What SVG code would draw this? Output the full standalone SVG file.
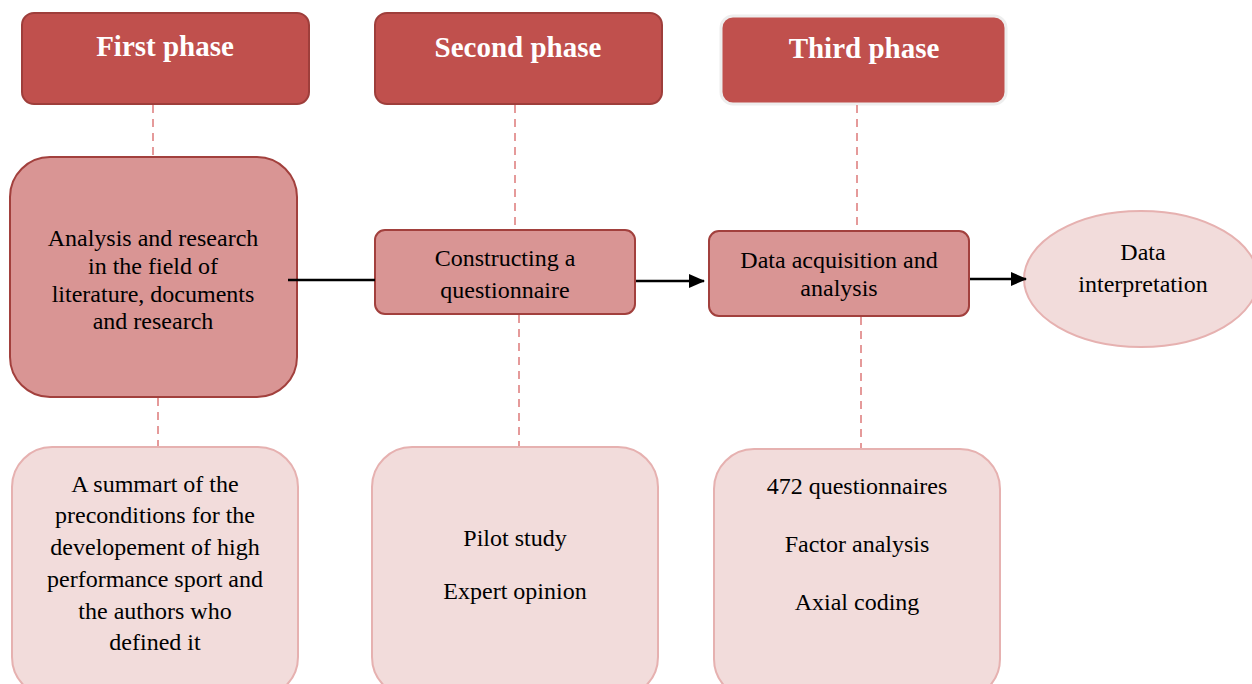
<svg xmlns="http://www.w3.org/2000/svg" width="1252" height="684" viewBox="0 0 1252 684">
<defs>
<marker id="arr" markerWidth="16" markerHeight="16" refX="15" refY="8" orient="auto" markerUnits="userSpaceOnUse" viewBox="0 0 16 16">
<path d="M0,1 L16,8 L0,15 z" fill="#000"/>
</marker>
</defs>
<style>
.title{fill:#C0504D;stroke:#9E3E3B;stroke-width:2}
.title3{fill:#C0504D;stroke:#EEEEEE;stroke-width:3}
.mid{fill:#D99594;stroke:#A2403D;stroke-width:2}
.light{fill:#F2DCDB;stroke:#E6B1B0;stroke-width:2}
.tt{font-family:"Liberation Serif","Times New Roman",serif;font-size:29px;font-weight:bold;fill:#fff;text-anchor:middle}
.t{font-family:"Liberation Serif","Times New Roman",serif;font-size:24px;fill:#000;text-anchor:middle}
.dash{stroke:#E59A9A;stroke-width:2;stroke-dasharray:8,6;fill:none}
.conn{stroke:#000;stroke-width:2.5;fill:none}
</style>
<g id="first-phase">
<rect class="title" x="22" y="13" width="287" height="91" rx="12"/>
<text class="tt" x="165" y="56">First phase</text>
</g>
<g id="second-phase">
<rect class="title" x="375" y="13" width="287" height="91" rx="12"/>
<text class="tt" x="518" y="57">Second phase</text>
</g>
<g id="third-phase">
<rect class="title3" x="721" y="16" width="285" height="88" rx="12"/>
<text class="tt" x="864" y="58">Third phase</text>
</g>
<g id="analysis">
<rect class="mid" x="10" y="157" width="287" height="240" rx="40"/>
<text class="t" x="153" y="246">Analysis and research</text>
<text class="t" x="153" y="274">in the field of</text>
<text class="t" x="153" y="302">literature, documents</text>
<text class="t" x="153" y="329">and research</text>
</g>
<g id="constructing">
<rect class="mid" x="375" y="230" width="260" height="84" rx="10"/>
<text class="t" x="505" y="266">Constructing a</text>
<text class="t" x="505" y="298">questionnaire</text>
</g>
<g id="data-acquisition">
<rect class="mid" x="709" y="231" width="260" height="85" rx="10"/>
<text class="t" x="839" y="268">Data acquisition and</text>
<text class="t" x="839" y="296">analysis</text>
</g>
<g id="data-interpretation">
<ellipse class="light" cx="1141" cy="279" rx="117" ry="68"/>
<text class="t" x="1143" y="260">Data</text>
<text class="t" x="1143" y="292">interpretation</text>
</g>
<g id="summary">
<rect class="light" x="12" y="447" width="286" height="250" rx="40"/>
<text class="t" x="155" y="492">A summart of the</text>
<text class="t" x="155" y="523">preconditions for the</text>
<text class="t" x="155" y="555">developement of high</text>
<text class="t" x="155" y="587">performance sport and</text>
<text class="t" x="155" y="619">the authors who</text>
<text class="t" x="155" y="650">defined it</text>
</g>
<g id="pilot">
<rect class="light" x="372" y="447" width="286" height="250" rx="40"/>
<text class="t" x="515" y="546">Pilot study</text>
<text class="t" x="515" y="599">Expert opinion</text>
</g>
<g id="questionnaires">
<rect class="light" x="714" y="449" width="286" height="250" rx="40"/>
<text class="t" x="857" y="494">472 questionnaires</text>
<text class="t" x="857" y="552">Factor analysis</text>
<text class="t" x="857" y="610">Axial coding</text>
</g>
<g id="connectors">
<line class="dash" x1="153" y1="105" x2="153" y2="156"/>
<line class="dash" x1="158" y1="398" x2="158" y2="446"/>
<line class="dash" x1="515" y1="105" x2="515" y2="229"/>
<line class="dash" x1="519" y1="315" x2="519" y2="446"/>
<line class="dash" x1="857" y1="105" x2="857" y2="230"/>
<line class="dash" x1="861" y1="317" x2="861" y2="448"/>
<line class="conn" x1="288" y1="280" x2="375" y2="280"/>
<line class="conn" x1="636" y1="281" x2="704" y2="281" marker-end="url(#arr)"/>
<line class="conn" x1="970" y1="279" x2="1026" y2="279" marker-end="url(#arr)"/>
</g>
</svg>
